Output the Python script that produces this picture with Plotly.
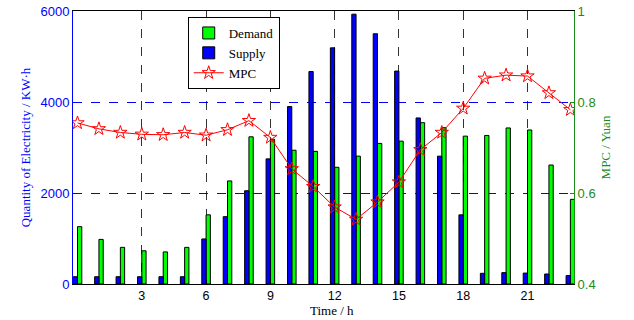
import plotly.graph_objects as go

hours = list(range(24))
supply = [160, 160, 160, 160, 160, 160, 990, 1480, 2050, 2750, 3900, 4670,
          5190, 5930, 5500, 4680, 3650, 2810, 1520, 235, 250, 240, 220, 185]
demand = [1260, 980, 805, 730, 705, 805, 1520, 2265, 3235, 3180, 2940, 2915,
          2565, 2810, 3090, 3140, 3545, 3435, 3250, 3265, 3430, 3385, 2615, 1860]
mpc = [0.754, 0.741, 0.733, 0.729, 0.728, 0.733, 0.727, 0.739, 0.759, 0.722,
       0.653, 0.614, 0.569, 0.542, 0.580, 0.624, 0.695, 0.733, 0.786, 0.852,
       0.859, 0.857, 0.820, 0.783]
xticks = [3, 6, 9, 12, 15, 18, 21]
yticks_left = [0, 2000, 4000, 6000]
yticks_right = [0.4, 0.6, 0.8, 1]

GREEN_TXT = "#1b8c1b"
serif = "Liberation Serif, Times New Roman, serif"
sans = "Liberation Sans, Arial, sans-serif"

fig = go.Figure()
fig.add_trace(go.Bar(x=hours, y=demand, name="Demand", width=0.2, offset=0.0,
                     marker=dict(color="#00ff00", line=dict(color="black", width=1))))
fig.add_trace(go.Bar(x=hours, y=supply, name="Supply", width=0.2, offset=-0.2,
                     marker=dict(color="#0000ff", line=dict(color="black", width=1))))
fig.add_trace(go.Scatter(x=hours, y=mpc, name="MPC", yaxis="y2", mode="lines+markers",
                         line=dict(color="red", width=1),
                         marker=dict(symbol="star-open", size=10, color="red",
                                     line=dict(width=1, color="red"))))

fig.update_layout(
    width=634, height=320,
    margin=dict(l=73, r=60, t=11, b=36),
    paper_bgcolor="white", plot_bgcolor="white",
    barmode="overlay",
    showlegend=True,
    legend=dict(x=0.229, y=0.978, xanchor="left", yanchor="top",
                bgcolor="white", bordercolor="black", borderwidth=1,
                font=dict(family=serif, size=13, color="black"),
                itemwidth=30, tracegroupgap=0),
    xaxis=dict(range=[-0.21, 23.17], tickvals=xticks, ticktext=[str(v) for v in xticks],
               showgrid=True, gridcolor="#333333", griddash="dash", gridwidth=1,
               showline=True, linecolor="black", linewidth=1, mirror=True,
               ticks="inside", ticklen=4, tickcolor="black", automargin=False,
               ticklabeloverflow="allow",
               tickfont=dict(family=sans, size=12.5, color="black"),
               zeroline=False),
    yaxis=dict(range=[0, 6000], tickvals=yticks_left, ticktext=[str(v) for v in yticks_left],
               showgrid=True, gridcolor="#0000ff", griddash="dash", gridwidth=1,
               showline=True, linecolor="#0000ff", linewidth=1, automargin=False,
               ticks="inside", ticklen=4, tickcolor="#0000ff",
               ticklabeloverflow="allow",
               tickfont=dict(family=sans, size=13, color="#0000ff"),
               title=dict(text="Quantity of Electricity / KW·h",
                          font=dict(family=serif, size=13, color="#0000ff"), standoff=6),
               zeroline=False),
    yaxis2=dict(range=[0.4, 1], tickvals=yticks_right, ticktext=["0.4", "0.6", "0.8", "1"],
                overlaying="y", side="right", showgrid=False, automargin=False,
                showline=True, linecolor="#1b8c1b", linewidth=1,
                ticks="inside", ticklen=4, tickcolor=GREEN_TXT,
                ticklabeloverflow="allow",
                tickfont=dict(family=sans, size=13, color=GREEN_TXT),
                title=dict(text="MPC / Yuan", font=dict(family=serif, size=13, color=GREEN_TXT),
                           standoff=6),
                zeroline=False),
    annotations=[dict(text="Time / h", xref="paper", yref="paper", x=0.517, y=-0.097,
                      xanchor="center", yanchor="middle", showarrow=False,
                      font=dict(family=serif, size=13, color="black"))],
)

# remove the default 8px page margin so the figure sits at the window's corner
fig.write_html("out.html", config={"displayModeBar": False},
               post_script="document.body.style.margin='0px';")
